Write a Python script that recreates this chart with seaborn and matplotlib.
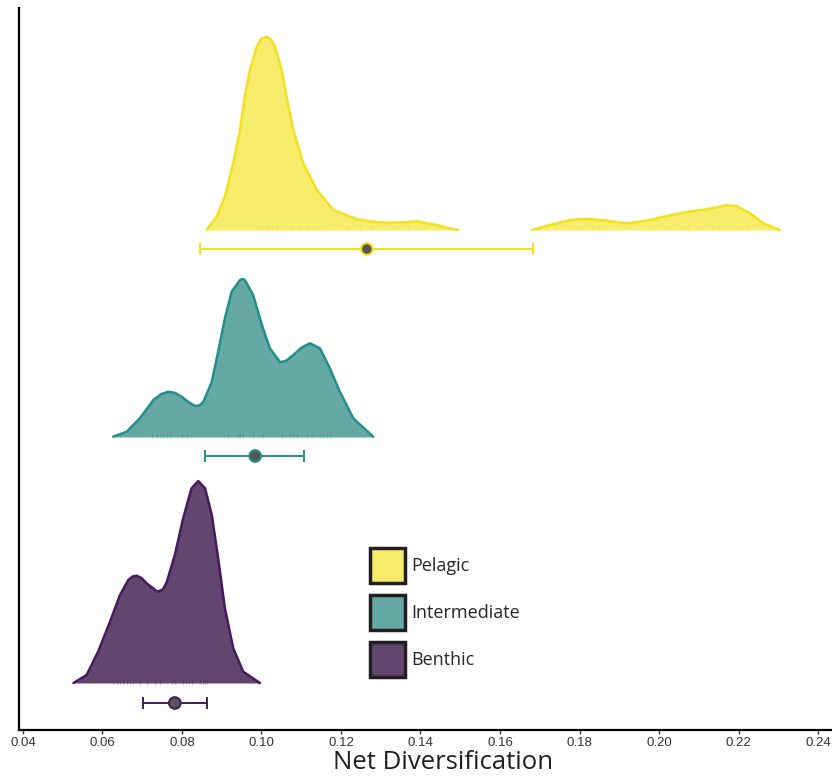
import numpy as np
import pandas as pd
import seaborn as sns
from matplotlib import pyplot as plt
from matplotlib.patches import Patch

sns.set_style("white")
plt.rcParams['font.family'] = ['Liberation Sans Narrow', 'Liberation Sans', 'DejaVu Sans']

groups = ["Pelagic", "Intermediate", "Benthic"]
line_colors = {"Pelagic": "#F2E11D", "Intermediate": "#21908C", "Benthic": "#461A5C"}
fill_colors = {"Pelagic": "#F8EC6C", "Intermediate": "#66A8A3", "Benthic": "#62466F"}

# density outlines (x = net diversification, height = density, pixel-scaled)
pel_x1 = [0.0862, 0.0887, 0.0908, 0.0929, 0.0946, 0.0958, 0.0971, 0.0988, 0.0999, 0.1013,
          0.1024, 0.1034, 0.1051, 0.1063, 0.1080, 0.1105, 0.1139, 0.1181, 0.1240, 0.1281,
          0.1323, 0.1356, 0.1390, 0.1441, 0.1469, 0.1495]
pel_y1 = [0, 13.3, 33.3, 66.7, 100, 133.3, 160, 183.3, 191, 193.3,
          190.5, 183.3, 160, 133.3, 100, 66.7, 40, 20, 10.7, 8.3,
          7.3, 7.7, 8.7, 5, 2, 0]
pel_x2 = [0.1680, 0.1726, 0.1776, 0.1818, 0.1868, 0.1919, 0.1969, 0.2019, 0.2070, 0.2120,
          0.2170, 0.2195, 0.2229, 0.2262, 0.2304]
pel_y2 = [0, 5, 10, 11.3, 9.3, 6.7, 9.3, 14, 18, 20.7, 24.7, 24, 16.7, 6.7, 0]
int_x = [0.0627, 0.0661, 0.0694, 0.0728, 0.0748, 0.0766, 0.0783, 0.0799, 0.0816, 0.0833,
         0.0844, 0.0854, 0.0875, 0.0891, 0.0908, 0.0925, 0.0946, 0.0952, 0.0958, 0.0979,
         0.1001, 0.1021, 0.1047, 0.1063, 0.1080, 0.1101, 0.1122, 0.1147, 0.1172, 0.1197,
         0.1231, 0.1281]
int_y = [0.3, 5.3, 18.7, 37, 43, 45.3, 44, 40.3, 35, 31,
         31.5, 35.3, 55.3, 85.3, 118.7, 145.3, 157, 158, 157, 142,
         112, 88.7, 74.7, 76.5, 82, 89.5, 93.7, 88.7, 68.7, 45.3,
         18.7, 0.3]
ben_x = [0.0527, 0.0560, 0.0589, 0.0619, 0.0644, 0.0665, 0.0676, 0.0686, 0.0698, 0.0711,
         0.0738, 0.0752, 0.0762, 0.0782, 0.0803, 0.0824, 0.0841, 0.0858, 0.0875, 0.0891,
         0.0908, 0.0929, 0.0954, 0.0996]
ben_y = [0, 8, 31.3, 61.3, 88, 103, 106.5, 107.3, 105, 99.7,
         91.3, 93.5, 101.3, 128, 164.7, 194.7, 202, 194.7, 168, 124.7,
         74.7, 34.7, 11.3, 0]

# rug values
pel_rug = [0.0996, 0.1004, 0.1014, 0.1026, 0.1039, 0.1059, 0.1077, 0.1097, 0.1117, 0.1142,
           0.1152, 0.1215, 0.1248, 0.1278, 0.1343, 0.1369, 0.1391, 0.1411, 0.1444,
           0.1738, 0.1776, 0.1794, 0.1831, 0.1847, 0.1857, 0.1884, 0.1965, 0.1977, 0.2015,
           0.2065, 0.2073, 0.2096, 0.2136, 0.2148, 0.2166, 0.2186, 0.2209, 0.2221]
int_rug = [0.0724, 0.0736, 0.0745, 0.0753, 0.0762, 0.0770, 0.0799, 0.0812, 0.0916, 0.0941,
           0.0946, 0.0953, 0.0979, 0.1005, 0.1051, 0.1072, 0.1080, 0.1089, 0.1114, 0.1130,
           0.1147, 0.1155, 0.1164, 0.1172]
ben_rug = [0.0626, 0.0636, 0.0644, 0.0652, 0.0662, 0.0669, 0.0677, 0.0694, 0.0712, 0.0732,
           0.0745, 0.0774, 0.0782, 0.0803, 0.0810, 0.0818, 0.0825, 0.0845, 0.0853, 0.0858, 0.0863]

# mean and interval per group
means = [0.1265, 0.0984, 0.0782]
lows = [0.0845, 0.0858, 0.0702]
highs = [0.1683, 0.1107, 0.0863]

baselines = {"Pelagic": 500, "Intermediate": 293, "Benthic": 47}
bar_levels = {"Pelagic": 481, "Intermediate": 274, "Benthic": 27}

curves = pd.concat([
    pd.DataFrame({"x": pel_x1, "d": pel_y1, "group": "Pelagic", "seg": "p1"}),
    pd.DataFrame({"x": pel_x2, "d": pel_y2, "group": "Pelagic", "seg": "p2"}),
    pd.DataFrame({"x": int_x, "d": int_y, "group": "Intermediate", "seg": "i1"}),
    pd.DataFrame({"x": ben_x, "d": ben_y, "group": "Benthic", "seg": "b1"}),
], ignore_index=True)
curves["y"] = curves["d"] + curves["group"].map(baselines)

fig = plt.figure(figsize=(8.32, 7.78), dpi=100)
ax = fig.add_axes([0.0228, 0.0617, 0.9772, 0.928])

for seg, sub in curves.groupby("seg", sort=False):
    g = sub["group"].iloc[0]
    ax.fill_between(sub["x"], baselines[g], sub["y"], color=fill_colors[g], lw=0, zorder=1)

sns.lineplot(data=curves, x="x", y="y", hue="group", units="seg", estimator=None,
             sort=False, palette=line_colors, linewidth=1.8, legend=False, ax=ax, zorder=3)
for ln in ax.lines:
    ln.set_solid_joinstyle("round")

for g, rug in zip(groups, [pel_rug, int_rug, ben_rug]):
    ax.vlines(rug, baselines[g] - 1, baselines[g] + 4, color=line_colors[g],
              alpha=0.35, lw=0.8, zorder=2)

stats = pd.DataFrame({"group": groups, "mean": means, "low": lows, "high": highs})
stats["y"] = stats["group"].map(bar_levels)
for _, r in stats.iterrows():
    ax.errorbar(r["mean"], r["y"], xerr=[[r["mean"] - r["low"]], [r["high"] - r["mean"]]],
                fmt="none", ecolor=line_colors[r["group"]], elinewidth=1.4,
                capsize=4.5, capthick=1.4, zorder=3)
sns.scatterplot(data=stats, x="mean", y="y", hue="group", palette=line_colors,
                s=70, legend=False, ax=ax, zorder=4)
pts = ax.collections[-1]
pts.set_facecolor("#555555")
pts.set_edgecolor([line_colors[g] for g in groups])
pts.set_linewidth(1.5)

ax.set_xlim(0.03899, 0.24352)
ax.set_ylim(0, 722)
ax.set_xticks([0.04, 0.06, 0.08, 0.10, 0.12, 0.14, 0.16, 0.18, 0.20, 0.22, 0.24])
ax.set_xticklabels(["0.04", "0.06", "0.08", "0.10", "0.12", "0.14", "0.16", "0.18",
                    "0.20", "0.22", "0.24"], fontsize=9.5, color="#333333")
ax.set_yticks([])
ax.tick_params(axis="x", length=3, width=1, color="#333333", pad=2, bottom=True)
ax.set_xlabel("Net Diversification", fontsize=18.5, family=["Open Sans", "DejaVu Sans"],
              color="#231F20")
ax.xaxis.set_label_coords(0.5215, -0.028, transform=ax.transAxes)
ax.xaxis.label.set_va("top")
ax.set_ylabel("")
sns.despine(ax=ax)
for s in ["left", "bottom"]:
    ax.spines[s].set_linewidth(1.6)
    ax.spines[s].set_color("black")

handles = [Patch(facecolor=fill_colors[g], edgecolor="#231F20", linewidth=2.5) for g in groups]
leg = ax.legend(handles, groups, loc="upper left", bbox_to_anchor=(0.4447, 0.296),
                bbox_transform=fig.transFigure, frameon=False,
                handlelength=1.94, handleheight=2.6, labelspacing=0.68, handletextpad=0.35,
                borderpad=0, borderaxespad=0, prop={"family": ["Open Sans", "DejaVu Sans"], "size": 13})

fig.savefig("out.png", dpi=100)
